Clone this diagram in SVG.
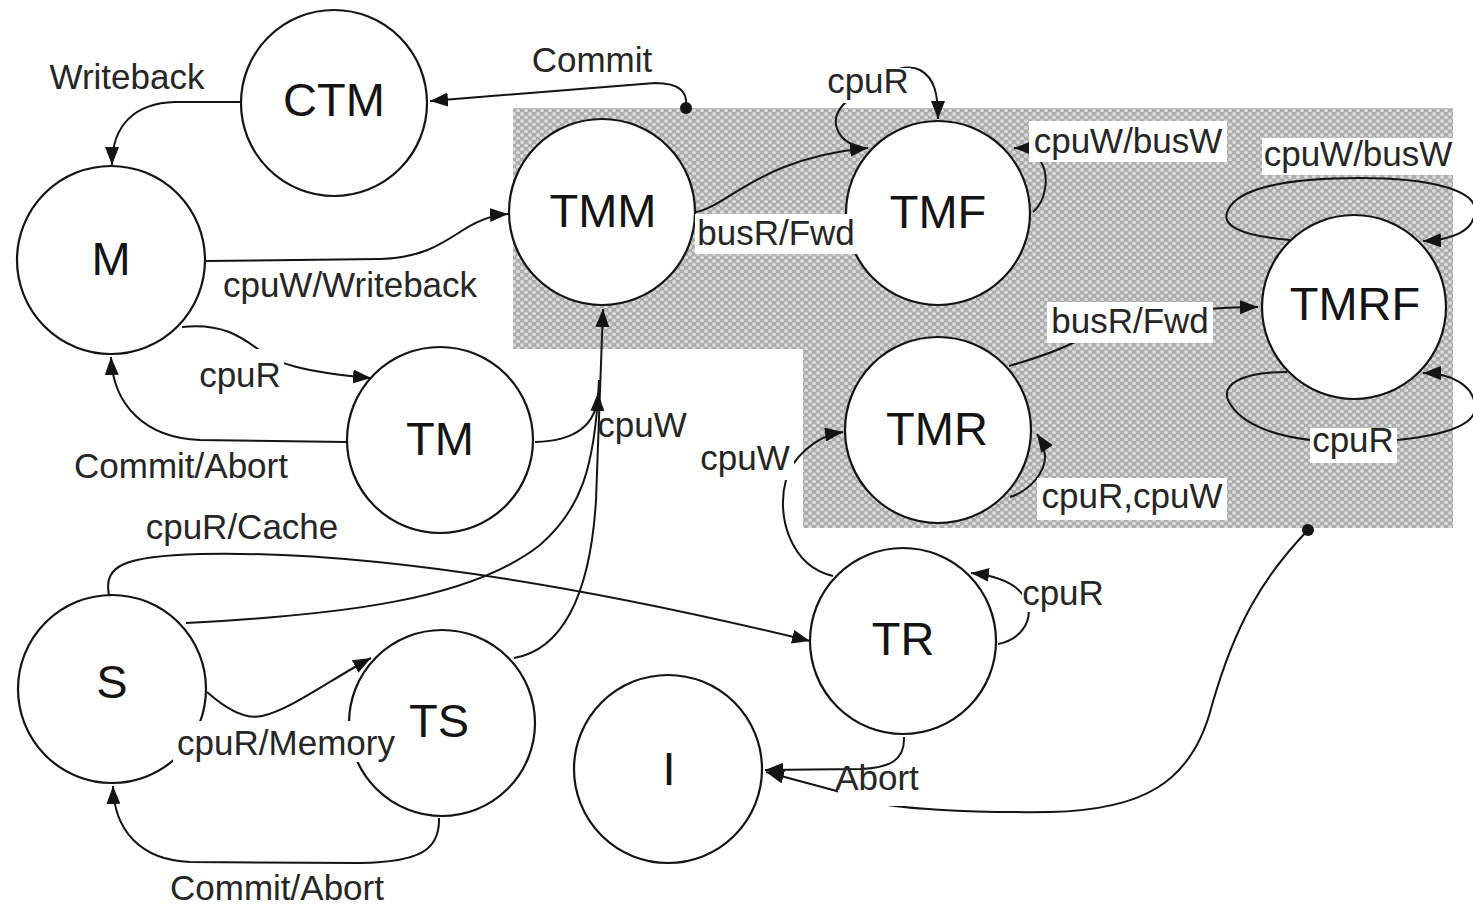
<svg xmlns="http://www.w3.org/2000/svg" width="1473" height="907" viewBox="0 0 1473 907">
  <style>
    .node circle { fill: #ffffff; stroke: #141414; stroke-width: 2.2; }
    .node text { font-family: "Liberation Sans", Arial, sans-serif; font-size: 47px; fill: #141414; text-anchor: middle; }
    .edge { fill: none; stroke: #141414; stroke-width: 2; }
    .arrow { marker-end: url(#head); }
    .lbl { font-family: "Liberation Sans", Arial, sans-serif; font-size: 35px; fill: #262626; text-anchor: middle; }
    .bg { fill: #ffffff; }
  </style>
  <defs>
    <pattern id="stipple" width="8" height="7" patternUnits="userSpaceOnUse">
      <rect width="8" height="7" fill="#acacac"/>
      <circle cx="2" cy="2" r="2" fill="#dadada"/>
      <circle cx="6" cy="5.5" r="2" fill="#dadada"/>
    </pattern>
    <filter id="soft" x="0" y="0" width="1" height="1">
      <feGaussianBlur stdDeviation="0.7"/>
    </filter>
    <marker id="head" viewBox="0 0 18 14" refX="18" refY="7" markerWidth="18" markerHeight="14" markerUnits="userSpaceOnUse" orient="auto">
      <path d="M0,0 L18,7 L0,14 Z" fill="#141414"/>
    </marker>
    <marker id="dot" viewBox="0 0 10 10" refX="5" refY="5" markerWidth="12" markerHeight="12" markerUnits="userSpaceOnUse">
      <circle cx="5" cy="5" r="5" fill="#141414"/>
    </marker>
  </defs>

  <rect width="1473" height="907" fill="#ffffff"/>

  <!-- transactional region -->
  <path id="tx-region" d="M513,108 L1453,108 L1453,528 L803,528 L803,349 L513,349 Z" fill="url(#stipple)" filter="url(#soft)"/>

  <g id="connectors">
    <!-- CTM -> M : Writeback -->
    <path class="edge arrow" d="M240,102 L175,102 C135,103 112,125 112,165"/>
    <!-- TMM -> CTM : Commit -->
    <path class="edge arrow" style="marker-start:url(#dot)" d="M686,108 C688,92 680,83 655,83 L430,101"/>
    <!-- M -> TMM : cpuW/Writeback -->
    <path class="edge arrow" d="M205,261 L380,259 C420,258 440,245 460,232 C475,222 490,215 508,214"/>
    <!-- M -> TM : cpuR -->
    <path class="edge arrow" d="M182,327 C225,322 245,340 262,352 C275,362 300,372 371,378"/>
    <!-- TM -> M : Commit/Abort -->
    <path class="edge arrow" d="M347,442 L200,440 C145,438 113,405 111,357"/>
    <!-- TM -> TMM : cpuW -->
    <path class="edge arrow" d="M535,442 C575,441 597,425 598,393"/>
    <!-- TS -> TMM -->
    <path class="edge arrow" d="M514,658 C560,650 590,600 596,500 L603,309"/>
    <!-- S -> TMM -->
    <path class="edge" d="M186,623 C340,615 470,600 540,545 C580,510 595,470 599,380"/>
    <!-- S -> TR : cpuR/Cache -->
    <path class="edge arrow" d="M109,595 C103,565 125,556 200,554 C380,550 600,590 810,641"/>
    <!-- S -> TS : cpuR/Memory -->
    <path class="edge arrow" d="M207,692 C225,708 245,720 262,716 C290,710 330,680 371,658"/>
    <!-- TS -> S : Commit/Abort -->
    <path class="edge arrow" d="M439,818 C440,850 420,862 360,863 L190,862 C140,860 114,830 113,786"/>
    <!-- TMM -> TMF : busR/Fwd -->
    <path class="edge arrow" d="M696,212 C730,205 760,158 868,148"/>
    <!-- TMF self : cpuR -->
    <path class="edge arrow" d="M861,147 C838,142 828,122 843,105 C870,75 905,62 920,70 C935,78 938,95 938,119"/>
    <!-- TMF self : cpuW/busW -->
    <path class="edge arrow" d="M1033,212 C1047,200 1049,175 1041,162 C1034,152 1024,148 1014,148"/>
    <!-- TMR -> TMRF : busR/Fwd -->
    <path class="edge arrow" d="M1009,366 C1030,360 1055,352 1075,342 C1110,320 1170,308 1258,307"/>
    <!-- TMR self : cpuR,cpuW -->
    <path class="edge arrow" d="M1010,497 C1032,490 1046,470 1045,455 C1044,446 1041,440 1037,434"/>
    <!-- TMRF self : cpuW/busW -->
    <path class="edge arrow" d="M1290,240 C1240,236 1220,225 1228,210 C1240,185 1300,178 1360,178 C1430,178 1475,190 1475,210 C1475,232 1450,240 1423,241"/>
    <!-- TMRF self : cpuR -->
    <path class="edge arrow" d="M1287,372 C1240,372 1222,385 1228,400 C1240,425 1280,442 1350,442 C1420,442 1475,430 1475,408 C1475,385 1450,373 1423,373"/>
    <!-- TR -> TMR : cpuW -->
    <path class="edge arrow" d="M833,576 C790,566 776,515 786,480 C792,458 815,436 843,432"/>
    <!-- TR self : cpuR -->
    <path class="edge arrow" d="M998,644 C1020,640 1032,622 1028,605 C1022,585 1000,576 971,573"/>
    <!-- TR -> I : Abort -->
    <path class="edge arrow" d="M904,737 C905,760 890,768 860,769 L765,770"/>
    <!-- transactional region -> I -->
    <path class="edge arrow" style="marker-start:url(#dot)" d="M1308,530 C1262,578 1235,625 1212,705 C1192,785 1140,810 1050,812 C960,813 900,808 876,803 L833,790 L766,772"/>
  </g>

  <g id="node-CTM" class="node"><circle cx="334" cy="103" r="93"/><text x="334" y="116">CTM</text></g>
  <g id="node-M" class="node"><circle cx="111" cy="260" r="94"/><text x="111" y="275">M</text></g>
  <g id="node-TMM" class="node"><circle cx="602" cy="212" r="93"/><text x="603" y="227">TMM</text></g>
  <g id="node-TMF" class="node"><circle cx="938" cy="213" r="92"/><text x="938" y="228">TMF</text></g>
  <g id="node-TMRF" class="node"><circle cx="1354" cy="307" r="92"/><text x="1355" y="320">TMRF</text></g>
  <g id="node-TMR" class="node"><circle cx="938" cy="430" r="93"/><text x="937" y="445">TMR</text></g>
  <g id="node-TM" class="node"><circle cx="440" cy="440" r="93"/><text x="440" y="455">TM</text></g>
  <g id="node-S" class="node"><circle cx="112" cy="689" r="94"/><text x="112" y="698">S</text></g>
  <g id="node-TS" class="node"><circle cx="442" cy="723" r="93"/><text x="439" y="737">TS</text></g>
  <g id="node-TR" class="node"><circle cx="903" cy="641" r="93"/><text x="903" y="655">TR</text></g>
  <g id="node-I" class="node"><circle cx="668" cy="769" r="94"/><text x="669" y="785">I</text></g>

  <g id="labels">
    <rect class="bg" x="826" y="68" width="85" height="35"/>
    <rect class="bg" x="1029" y="121" width="198" height="41"/>
    <rect class="bg" x="1262" y="138" width="193" height="37"/>
    <rect class="bg" x="695" y="214" width="162" height="40"/>
    <rect class="bg" x="1047" y="302" width="166" height="41"/>
    <rect class="bg" x="1310" y="428" width="87" height="35"/>
    <rect class="bg" x="1037" y="478" width="190" height="42"/>
    <rect class="bg" x="196" y="349" width="88" height="45"/>
    <rect class="bg" x="700" y="444" width="94" height="36"/>
    <rect class="bg" x="1022" y="578" width="84" height="34"/>
    <rect class="bg" x="173" y="721" width="227" height="41"/>
    <rect class="bg" x="838" y="774" width="82" height="32"/>

    <text class="lbl" x="127" y="89">Writeback</text>
    <text class="lbl" x="592" y="72">Commit</text>
    <text class="lbl" x="868" y="93">cpuR</text>
    <text class="lbl" x="1128" y="153">cpuW/busW</text>
    <text class="lbl" x="1358" y="166">cpuW/busW</text>
    <text class="lbl" x="776" y="245">busR/Fwd</text>
    <text class="lbl" x="1130" y="333">busR/Fwd</text>
    <text class="lbl" x="1353" y="452">cpuR</text>
    <text class="lbl" x="1132" y="508">cpuR,cpuW</text>
    <text class="lbl" x="350" y="297">cpuW/Writeback</text>
    <text class="lbl" x="240" y="387">cpuR</text>
    <text class="lbl" x="181" y="478">Commit/Abort</text>
    <text class="lbl" x="642" y="437">cpuW</text>
    <text class="lbl" x="745" y="470">cpuW</text>
    <text class="lbl" x="242" y="539">cpuR/Cache</text>
    <text class="lbl" x="1063" y="605">cpuR</text>
    <text class="lbl" x="286" y="755">cpuR/Memory</text>
    <text class="lbl" x="277" y="900">Commit/Abort</text>
    <text class="lbl" x="877" y="790">Abort</text>
  </g>
</svg>
